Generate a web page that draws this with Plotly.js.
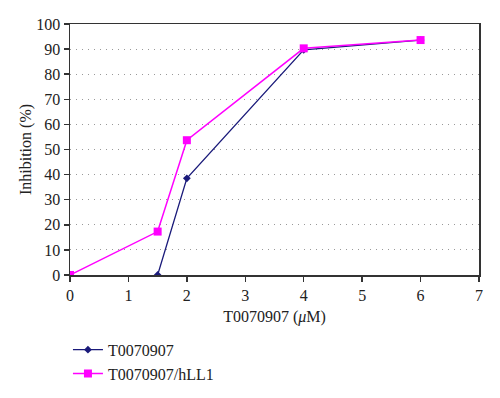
<!DOCTYPE html>
<html>
<head>
<meta charset="utf-8">
<script src="https://cdn.plot.ly/plotly-3.0.1.min.js"></script>
<style>html,body{margin:0;padding:0;background:#fff;}#chart{width:500px;height:398px;}</style>
</head>
<body>
<div id="chart"></div>
<script>
var seriesNames = ["T0070907", "T0070907/hLL1"];
var xA = [1.5, 2, 4, 6];
var yA = [0, 38.5, 89.7, 93.6];
var xB = [0, 1.5, 2, 4, 6];
var yB = [0, 17.3, 53.7, 90.3, 93.6];
var xTicks = [0, 1, 2, 3, 4, 5, 6, 7];
var yTicks = [0, 10, 20, 30, 40, 50, 60, 70, 80, 90, 100];

var font = "Liberation Serif, Times New Roman, serif";
var traces = [
  {x: xA, y: yA, name: seriesNames[0], mode: "lines+markers", type: "scatter",
   line: {color: "#1a1a7a", width: 1.3}, marker: {symbol: "diamond", size: 6, color: "#1a1a7a"}},
  {x: xB, y: yB, name: seriesNames[1], mode: "lines+markers", type: "scatter",
   line: {color: "#ff00ff", width: 1.5}, marker: {symbol: "square", size: 8, color: "#ff00ff"}}
];
var layout = {
  width: 500, height: 398,
  margin: {l: 70, r: 21, t: 24, b: 123, autoexpand: false},
  paper_bgcolor: "#fff", plot_bgcolor: "#fff",
  font: {family: font, size: 16, color: "#222"},
  showlegend: true,
  legend: {x: -0.005, y: -0.23, xanchor: "left", yanchor: "top", font: {family: font, size: 16, color: "#222"},
           bgcolor: "rgba(0,0,0,0)", tracegroupgap: 0},
  xaxis: {range: [0, 7], tickvals: xTicks, ticktext: xTicks.map(String), showgrid: false, zeroline: false,
          showline: true, linecolor: "#333", linewidth: 1.5, mirror: true,
          ticks: "outside", ticklen: 5, tickcolor: "#333", tickwidth: 1.5,
          tickfont: {family: font, size: 16, color: "#222"},
          title: {text: "T0070907 (<i>μ</i>M)", font: {family: font, size: 16, color: "#222"}, standoff: 8}},
  yaxis: {range: [0, 100], tickvals: yTicks, ticktext: yTicks.map(String), showgrid: true, gridcolor: "#999",
          griddash: "1px,5px", gridwidth: 1, zeroline: false,
          showline: true, linecolor: "#333", linewidth: 1.5, mirror: true,
          ticks: "outside", ticklen: 5, tickcolor: "#333", tickwidth: 1.5,
          tickfont: {family: font, size: 16, color: "#222"},
          title: {text: "Inhibition (%)", font: {family: font, size: 16, color: "#222"}, standoff: 0}}
};
Plotly.newPlot("chart", traces, layout, {displayModeBar: false, staticPlot: true});
</script>
</body>
</html>
